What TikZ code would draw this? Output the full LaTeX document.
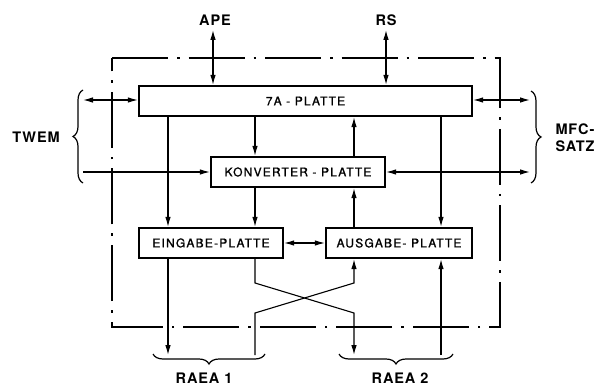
\documentclass[tikz,border=0pt]{standalone}
\usepackage{fontspec}
\setmainfont{TeX Gyre Heros}
\newfontfamily\boxfont[LetterSpace=10,FakeBold=1.2]{TeX Gyre Heros}
\newfontfamily\labfont[LetterSpace=6]{TeX Gyre Heros}
\usetikzlibrary{arrows.meta,decorations.pathreplacing}
\begin{document}
\begin{tikzpicture}[x=1pt,y=-1pt,
  plate/.style={draw,line width=2.4pt,minimum height=30pt,inner sep=0pt,font=\boxfont\fontsize{12}{14}\selectfont},
  conn/.style={line width=1.1pt},
  tip/.tip={Latex[length=10pt,width=5.5pt]},
  arr/.style={conn,-tip},
  darr/.style={conn,tip-tip},
  frame/.style={line width=2.4pt, dash pattern=on 56pt off 9pt on 2.5pt off 9pt},
  lab/.style={font=\labfont\bfseries\fontsize{14.5}{17}\selectfont},
  brc/.style={decorate,decoration={brace,amplitude=10pt},line width=1.2pt}
]
\useasboundingbox (0,0) rectangle (602,387);
% frame
\draw[frame] (112,58) -- (500,58) -- (500,327) -- (112,327) -- cycle;
% boxes
\node[plate,minimum width=333pt] (seven) at (305.5,101) {7A - PLATTE};
\node[plate,minimum width=174pt] (konv) at (298,172) {KONVERTER - PLATTE};
\node[plate,minimum width=144pt] (ein) at (211,243) {EINGABE-PLATTE};
\node[plate,minimum width=146pt] (aus) at (399,243) {AUSGABE- PLATTE};
% column coordinates
\coordinate (cA) at (168,0);
\coordinate (cB) at (255,0);
\coordinate (cC) at (354,0);
\coordinate (cD) at (441,0);
% labels
\node[lab] (ape) at (215,20) {APE};
\node[lab] (rs) at (386,20) {RS};
\node[lab] (twem) at (36,137) {TWEM};
\node[lab,anchor=west,align=left] (mfc) at (552,138) {MFC-\\SATZ};
\node[lab] (r1) at (204,378) {RAEA 1};
\node[lab] (r2) at (400,378) {RAEA 2};
% free ends
\coordinate (apeE) at (213,30);
\coordinate (rsE) at (386,30);
\coordinate (tw1) at (83,100);
\coordinate (tw2) at (83,172);
\coordinate (mf1) at (530,100);
\coordinate (mf2) at (530,172);
\coordinate (b1) at (168,355);
\coordinate (b2) at (255,355);
\coordinate (b3) at (354,355);
\coordinate (b4) at (441,355);
% braces
\draw[brc] (83,183) -- (83,90);
\draw[brc] (531,91) -- (531,183);
\draw[brc] (265,354) -- (153,354);
\draw[brc] (453,354) -- (339,354);
% connectors
\draw[darr] (apeE) -- (apeE |- seven.north);
\draw[darr] (rsE) -- (rsE |- seven.north);
\draw[darr] (tw1) -- (seven.west |- tw1);
\draw[arr] (tw2) -- (konv.west |- tw2);
\draw[darr] (seven.east |- mf1) -- (mf1);
\draw[darr] (konv.east |- mf2) -- (mf2);
\draw[arr] (seven.south -| cA) -- (ein.north -| cA);
\draw[arr] (seven.south -| cB) -- (konv.north -| cB);
\draw[arr] (konv.south -| cB) -- (ein.north -| cB);
\draw[arr] (aus.north -| cC) -- (konv.south -| cC);
\draw[arr] (konv.north -| cC) -- (seven.south -| cC);
\draw[arr] (seven.south -| cD) -- (aus.north -| cD);
\draw[darr] (ein.east) -- (aus.west);
\draw[arr] (ein.south -| cA) -- (b1);
\draw[arr] (ein.south -| cB) -- (255,283) -- (354,313) -- (b3);
\draw[arr] (b2) -- (255,313) -- (354,283) -- (aus.south -| cC);
\draw[arr] (b4) -- (aus.south -| cD);
\end{tikzpicture}
\end{document}
